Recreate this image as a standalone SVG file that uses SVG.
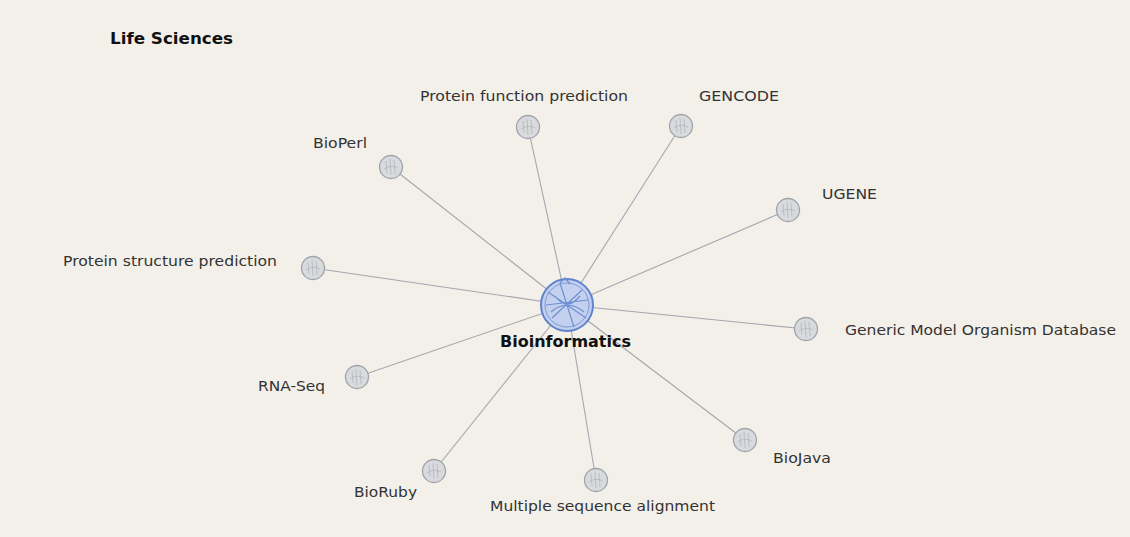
<svg xmlns="http://www.w3.org/2000/svg" width="1130" height="537" viewBox="0 0 1130 537">
<defs>
<style>
.bg{fill:#f3f0ea}
.edge{stroke:#a3a7ae;stroke-width:1.1;fill:none}
.leaf{fill:#d9dadd;stroke:#9fa3aa;stroke-width:1.3}
.sc{stroke:#b3b6bc;stroke-width:0.8;fill:none}
.lbl{font-family:"DejaVu Sans","Liberation Sans",sans-serif;font-size:14px;fill:#333}
.hub{fill:#c3d0ee;stroke:#5f83cc;stroke-width:2}
.hs{stroke:#6f90d2;stroke-width:1.2;fill:none}
.title{font-family:"DejaVu Sans","Liberation Sans",sans-serif;font-weight:bold;fill:#111}
</style>
<g id="leafshape">
<circle class="leaf" cx="0" cy="0" r="11.5"/>
<path class="sc" d="M-5,-6 L-4,6 M-1,-8 L0,8 M3,-7 L4,7 M-7,2 Q0,-3 7,1"/>
</g>
</defs>
<rect class="bg" x="0" y="0" width="1130" height="537"/>
<text class="title" x="110" y="44" font-size="16" textLength="123" lengthAdjust="spacingAndGlyphs">Life Sciences</text>
<g id="connectors">
<line class="edge" x1="567" y1="305" x2="528" y2="127"/>
<line class="edge" x1="567" y1="305" x2="681" y2="126"/>
<line class="edge" x1="567" y1="305" x2="391" y2="167"/>
<line class="edge" x1="567" y1="305" x2="788" y2="210"/>
<line class="edge" x1="567" y1="305" x2="313" y2="268"/>
<line class="edge" x1="567" y1="305" x2="806" y2="329"/>
<line class="edge" x1="567" y1="305" x2="357" y2="377"/>
<line class="edge" x1="567" y1="305" x2="434" y2="471"/>
<line class="edge" x1="567" y1="305" x2="596" y2="480"/>
<line class="edge" x1="567" y1="305" x2="745" y2="440"/>
</g>
<g id="n-protein-function"><use href="#leafshape" x="528" y="127"/><text class="lbl" x="420" y="101" textLength="208" lengthAdjust="spacingAndGlyphs">Protein function prediction</text></g>
<g id="n-gencode"><use href="#leafshape" x="681" y="126"/><text class="lbl" x="699" y="101" textLength="80" lengthAdjust="spacingAndGlyphs">GENCODE</text></g>
<g id="n-bioperl"><use href="#leafshape" x="391" y="167"/><text class="lbl" x="313" y="148" textLength="54" lengthAdjust="spacingAndGlyphs">BioPerl</text></g>
<g id="n-ugene"><use href="#leafshape" x="788" y="210"/><text class="lbl" x="822" y="199" textLength="55" lengthAdjust="spacingAndGlyphs">UGENE</text></g>
<g id="n-protein-structure"><use href="#leafshape" x="313" y="268"/><text class="lbl" x="63" y="266" textLength="214" lengthAdjust="spacingAndGlyphs">Protein structure prediction</text></g>
<g id="n-gmod"><use href="#leafshape" x="806" y="329"/><text class="lbl" x="845" y="335" textLength="271" lengthAdjust="spacingAndGlyphs">Generic Model Organism Database</text></g>
<g id="n-rnaseq"><use href="#leafshape" x="357" y="377"/><text class="lbl" x="258" y="391" textLength="67" lengthAdjust="spacingAndGlyphs">RNA-Seq</text></g>
<g id="n-bioruby"><use href="#leafshape" x="434" y="471"/><text class="lbl" x="354" y="497" textLength="63" lengthAdjust="spacingAndGlyphs">BioRuby</text></g>
<g id="n-msa"><use href="#leafshape" x="596" y="480"/><text class="lbl" x="490" y="511" textLength="225" lengthAdjust="spacingAndGlyphs">Multiple sequence alignment</text></g>
<g id="n-biojava"><use href="#leafshape" x="745" y="440"/><text class="lbl" x="773" y="463" textLength="58" lengthAdjust="spacingAndGlyphs">BioJava</text></g>
<g id="n-bioinformatics">
<circle class="hub" cx="567" cy="305" r="26"/>
<circle cx="567" cy="305" r="22" fill="none" stroke="#7b98d6" stroke-width="1"/>
<path class="hs" d="M548,292 L586,318 M546,305 L588,300 M552,318 L582,290 M560,283 L574,327 M555,296 Q567,312 580,296 M551,312 Q567,298 584,312 M560,283 L565,278 L570,284"/>
<text class="title" x="500" y="347" font-size="15" textLength="131" lengthAdjust="spacingAndGlyphs">Bioinformatics</text>
</g>
</svg>
